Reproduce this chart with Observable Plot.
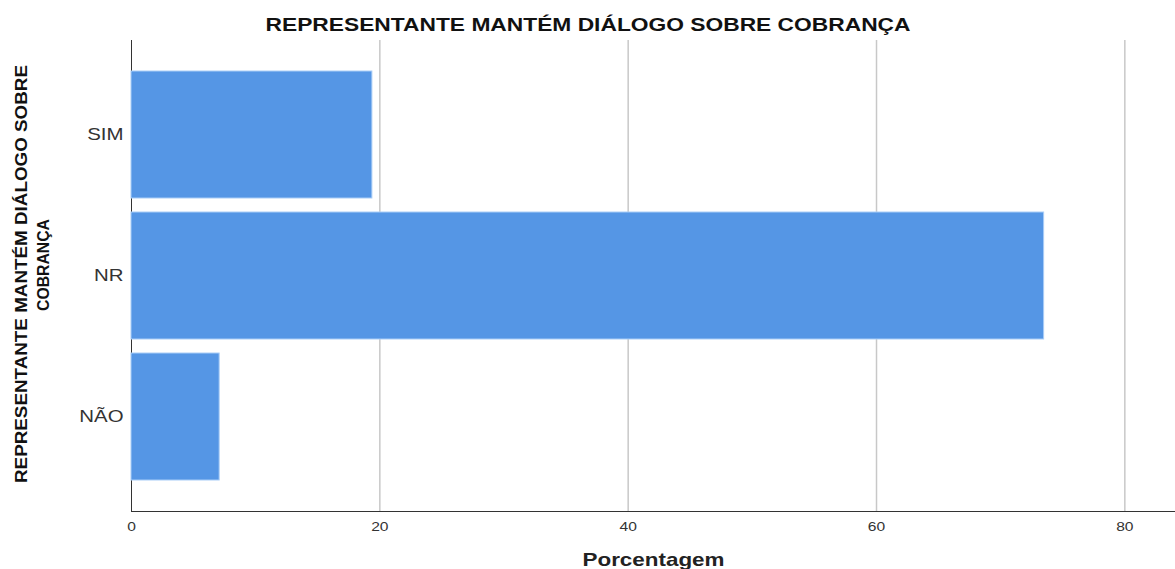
<!DOCTYPE html>
<html>
<head>
<meta charset="utf-8">
<script src="https://cdn.jsdelivr.net/npm/d3@7"></script>
<script src="https://cdn.jsdelivr.net/npm/@observablehq/plot@0.6"></script>
<style>
  html, body { margin: 0; padding: 0; background: #fff; }
  #chart svg { font-family: "Liberation Sans", Arial, sans-serif; display: block; }
</style>
</head>
<body>
<div id="chart"></div>
<script>
const categories = ["SIM", "NR", "NÃO"];
const percentages = [19.4, 73.5, 7.1];
const xTicks = [0, 20, 40, 60, 80];
const gridTicks = [20, 40, 60, 80];
const chartTitle = "REPRESENTANTE MANTÉM DIÁLOGO SOBRE COBRANÇA";
const yTitleLine1 = "REPRESENTANTE MANTÉM DIÁLOGO SOBRE";
const yTitleLine2 = "COBRANÇA";
const xTitle = "Porcentagem";

const data = categories.map((c, i) => ({category: c, value: percentages[i]}));

const plot = Plot.plot({
  width: 1175,
  height: 569,
  marginTop: 40,
  marginBottom: 58,
  marginLeft: 131,
  marginRight: 0,
  style: {background: "#fff", color: "#333", fontFamily: "Liberation Sans, Arial, sans-serif"},
  x: {
    domain: [0, 84.08],
    ticks: xTicks,
    tickSize: 0,
    tickPadding: 10,
    label: null,
    line: true,
    tickFormat: d => String(d)
  },
  y: {
    domain: categories,
    paddingInner: 0.1,
    paddingOuter: 0.22,
    tickSize: 0,
    tickPadding: 8,
    label: null,
    line: true
  },
  marks: [
    Plot.ruleX(gridTicks, {stroke: "#c8c8c8", strokeWidth: 1.5}),
    Plot.barX(data, {x: "value", y: "category", fill: "#5596e5", stroke: "#a9cdf7", strokeWidth: 1}),
    Plot.text([chartTitle], {frameAnchor: "top", lineAnchor: "middle", textAnchor: "middle", dx: -65.5, dy: -15.6, fontSize: 18, fontWeight: "bold", fill: "#111"}),
    Plot.text([yTitleLine1], {frameAnchor: "left", lineAnchor: "middle", textAnchor: "middle", dx: -110, dy: -2, rotate: -90, fontSize: 17, fontWeight: "bold", fill: "#111"}),
    Plot.text([yTitleLine2], {frameAnchor: "left", lineAnchor: "middle", textAnchor: "middle", dx: -87.5, dy: -11, rotate: -90, fontSize: 17, fontWeight: "bold", fill: "#111"}),
    Plot.text([xTitle], {frameAnchor: "bottom", lineAnchor: "middle", textAnchor: "middle", dy: 48, fontSize: 19, fontWeight: "bold", fill: "#222"})
  ]
});

document.getElementById("chart").appendChild(plot);

function stretch(el, len) {
  el.setAttribute("textLength", len);
  el.setAttribute("lengthAdjust", "spacingAndGlyphs");
}

// axes styling
plot.querySelectorAll('[aria-label*="y-axis"] text').forEach(t => {
  t.style.fontSize = "17px"; t.setAttribute("fill", "#333");
  stretch(t, t.getComputedTextLength() * 1.2);
});
plot.querySelectorAll('[aria-label*="x-axis"] text').forEach(t => {
  t.style.fontSize = "13px"; t.setAttribute("fill", "#333");
  stretch(t, t.getComputedTextLength() * 1.2);
});
plot.querySelectorAll('[aria-label*="axis"] path, [aria-label*="axis"] line').forEach(el => {
  el.setAttribute("stroke", "#888"); el.style.stroke = "#888"; el.setAttribute("stroke-width", "1.5");
});

// title text widths as in the reference
plot.querySelectorAll('g[aria-label="text"] text').forEach(t => {
  const s = t.textContent;
  if (s === chartTitle) stretch(t, 645);
  else if (s === xTitle) stretch(t, 142);
  else if (s === yTitleLine1) stretch(t, 418);
  else if (s === yTitleLine2) stretch(t, 92);
});
</script>
</body>
</html>
